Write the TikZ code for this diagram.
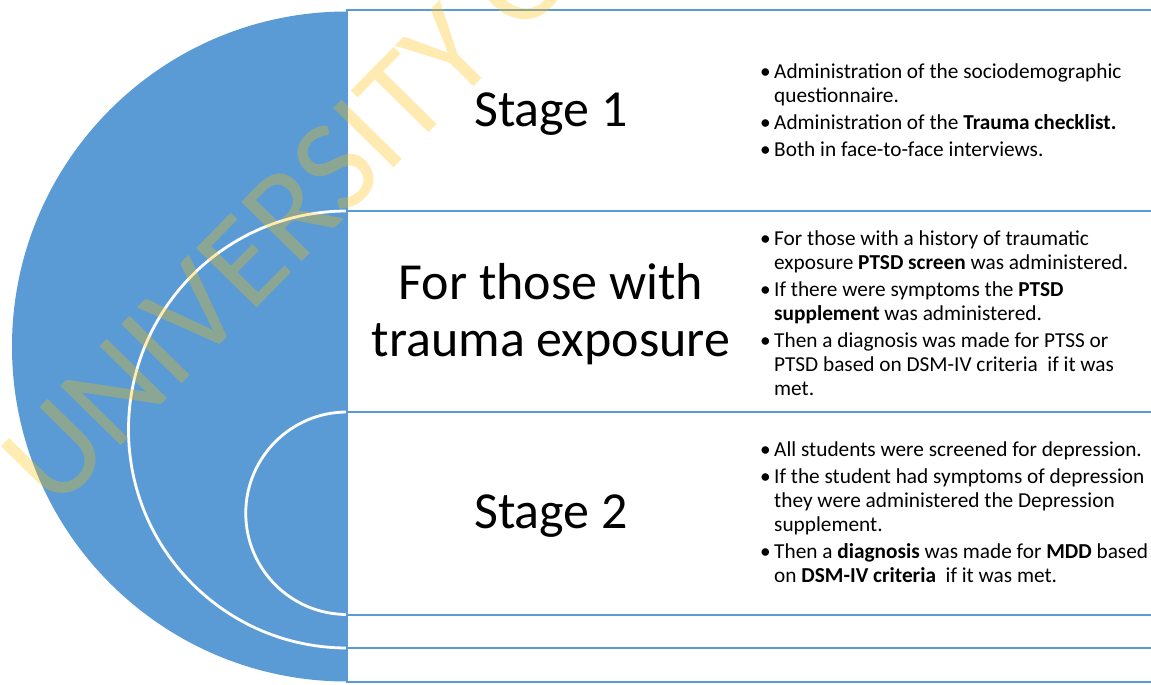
\documentclass[tikz,border=0pt]{standalone}
\usepackage{fontspec}
\setmainfont{Carlito}
\definecolor{accentblue}{HTML}{5B9BD5}
\definecolor{markgold}{HTML}{FFC000}
% bullet hung to the left of the line
\newcommand\itemdot{\llap{•\hspace{3.5pt}}}
\begin{document}
\begin{tikzpicture}[x=1pt,y=-1pt,
  rowbox/.style={draw=accentblue, line width=2pt, fill=white},
  ring/.style={draw=white, line width=2.8pt},
  heading/.style={font=\fontsize{52}{57}\selectfont, align=center, inner sep=0pt},
  bullets/.style={font=\fontsize{21.3}{24}\selectfont, align=left, inner sep=0pt, anchor=north west},
  watermark/.style={font=\fontsize{132}{132}\selectfont, text=markgold, opacity=0.3,
    rotate=45.5, anchor=base west, inner sep=0pt}
]
\useasboundingbox (0,0) rectangle (1151,685);
\clip (0,0) rectangle (1151,685);

% half disc with the two inner rings
\begin{scope}
  \clip (0,0) rectangle (345.8,685);
  \fill[accentblue] (347,346.5) circle[radius=335pt];
  \draw[ring] (347,429.5) circle[radius=218.5pt];
  \draw[ring] (347,513.25) circle[radius=101.25pt];
\end{scope}

% the five rows
\draw[rowbox] (347.2,10.5) rectangle (1170,211);
\draw[rowbox] (347.2,211) rectangle (1170,412);
\draw[rowbox] (347.2,412) rectangle (1170,614.5);
\draw[rowbox] (347.2,614.5) rectangle (1170,648);
\draw[rowbox] (347.2,648) rectangle (1170,681.5);

% headings
\node[heading, anchor=base] (h1) at (551,126) {Stage 1};
\node[heading, anchor=north] (h2) at (551,254) {\rule{0pt}{45pt}For those with\\trauma exposure};
\node[heading, anchor=base] (h3) at (551,528.5) {Stage 2};

% bullet lists
\node[bullets] (b1) at (774,58.3) {\rule{0pt}{20pt}\itemdot Administration of the sociodemographic\\
questionnaire.\\[3pt]
\itemdot Administration of the \textbf{Trauma checklist.}\\[3pt]
\itemdot Both in face-to-face interviews.};

\node[bullets] (b2) at (774,225) {\rule{0pt}{20pt}\itemdot For those with a history of traumatic\\
exposure \textbf{PTSD screen} was administered.\\[3pt]
\itemdot If there were symptoms the \textbf{PTSD}\\
\textbf{supplement} was administered.\\[3pt]
\itemdot Then a diagnosis was made for PTSS or\\
PTSD based on DSM-IV criteria\ \ if it was\\
met.};

\node[bullets] (b3) at (774,436.7) {\rule{0pt}{20pt}\itemdot All students were screened for depression.\\[3pt]
\itemdot If the student had symptoms of depression\\
they were administered the Depression\\
supplement.\\[3pt]
\itemdot Then a \textbf{diagnosis} was made for \textbf{MDD} based\\
on \textbf{DSM-IV criteria}\ \ if it was met.};

% translucent watermark over everything
\node[watermark] (mark) at (55,513) {UNIVERSITY O};
\end{tikzpicture}
\end{document}
